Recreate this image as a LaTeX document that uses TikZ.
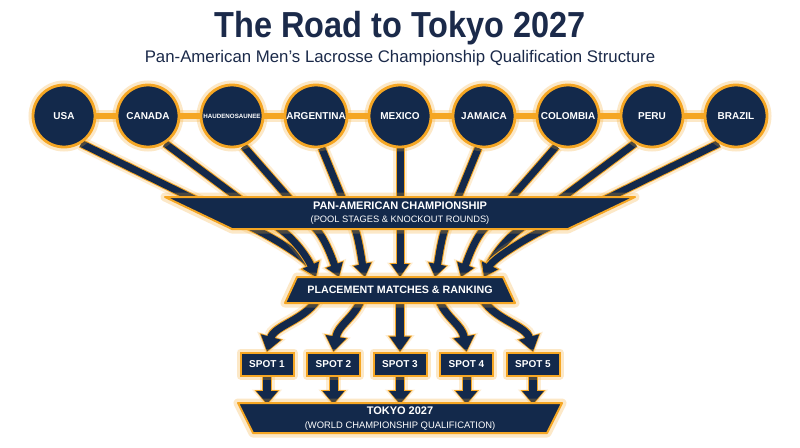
\documentclass[tikz,border=0pt]{standalone}
\usepackage{fontspec}
\setmainfont{Liberation Sans}
\usetikzlibrary{arrows.meta}
\pgfdeclarelayer{bg}
\pgfsetlayers{bg,main}
\definecolor{navy}{HTML}{13294B}
\definecolor{org}{HTML}{F5A623}
\definecolor{ttl}{HTML}{1B2A4A}
\newcommand\fsz[1]{\fontsize{#1}{#1}\selectfont}
\tikzset{
  country/.style={circle, fill=navy, draw=org, line width=2.8pt, minimum size=62pt, inner sep=0pt,
    text=white, font=\bfseries\fsz{10}, preaction={draw=org, opacity=.25, line width=9pt}},
  spotbox/.style={rectangle, fill=navy, draw=org, line width=2pt, minimum width=53pt, minimum height=23pt,
    inner sep=0pt, text=white, font=\bfseries\fsz{10}, preaction={draw=org, opacity=.25, line width=8pt, line join=round}},
  banner/.style={fill=navy, draw=org, line width=2pt, line join=round, preaction={draw=org, opacity=.25, line width=9pt, line join=round}},
  bantext/.style={text=white, align=center, inner sep=0pt},
  softA/.style={draw=org, opacity=.2, line width=14pt, -{Triangle[length=18pt,width=25pt]}, shorten >=-3.5pt},
  edgeA/.style={draw=org, line width=9pt, -{Triangle[length=15pt,width=20pt]}, shorten >=-1.2pt},
  coreA/.style={draw=navy, line width=7pt, -{Triangle[length=13pt,width=17pt]}},
  softB/.style={draw=org, opacity=.2, line width=14.5pt, -{Triangle[length=20pt,width=28pt]}, shorten >=-3.5pt},
  edgeB/.style={draw=org, line width=9.5pt, -{Triangle[length=17pt,width=23pt]}, shorten >=-1.2pt},
  coreB/.style={draw=navy, line width=7.5pt, -{Triangle[length=15pt,width=20pt]}},
  softC/.style={draw=org, opacity=.2, line width=15pt, -{Triangle[length=18pt,width=29pt]}, shorten >=-3.5pt},
  edgeC/.style={draw=org, line width=10pt, -{Triangle[length=15pt,width=24pt]}, shorten >=-1.2pt},
  coreC/.style={draw=navy, line width=8pt, -{Triangle[length=13pt,width=21pt]}},
}
\newcommand\glowA[1]{\draw[softA] #1; \draw[edgeA] #1; \draw[coreA] #1;}
\newcommand\glowB[1]{\draw[softB] #1; \draw[edgeB] #1; \draw[coreB] #1;}
\newcommand\glowC[1]{\draw[softC] #1; \draw[edgeC] #1; \draw[coreC] #1;}
\begin{document}
\begin{tikzpicture}[x=1pt,y=-1pt]
\useasboundingbox (0,0) rectangle (800,447);

% titles
\node[anchor=base, text=ttl, font=\bfseries\fsz{33.5}, inner sep=0pt] (title) at (400,37) {\scalebox{0.97}[1.08]{The Road to Tokyo 2027}};
\node[anchor=base, text=ttl, font=\fsz{16.8}, inner sep=0pt] (subtitle) at (400,62) {Pan-American Men’s Lacrosse Championship Qualification Structure};

% countries
\node[country] (c1) at (64,116) {USA};
\node[country] (c2) at (148,116) {CANADA};
\node[country, font=\bfseries\fsz{6.2}] (c3) at (232,116) {HAUDENOSAUNEE};
\node[country] (c4) at (316,116) {ARGENTINA};
\node[country] (c5) at (400,116) {MEXICO};
\node[country] (c6) at (484,116) {JAMAICA};
\node[country] (c7) at (568,116) {COLOMBIA};
\node[country] (c8) at (652,116) {PERU};
\node[country] (c9) at (736,116) {BRAZIL};

% Pan-American championship banner
\path[banner] (165,197) -- (635,197) -- (568,229) -- (232,229) -- cycle;
\node[bantext] (pac) at (400,213) {{\bfseries\fsz{11}PAN-AMERICAN CHAMPIONSHIP}\\[1.5pt]{\fsz{9.3}(POOL STAGES \& KNOCKOUT ROUNDS)}};

% placement banner
\path[banner] (297,277) -- (503,277) -- (515,303) -- (285,303) -- cycle;
\node[bantext, font=\bfseries\fsz{10.7}] (plc) at (400,290) {PLACEMENT MATCHES \& RANKING};

% spots
\node[spotbox] (s1) at (267,364) {SPOT 1};
\node[spotbox] (s2) at (333.5,364) {SPOT 2};
\node[spotbox] (s3) at (400,364) {SPOT 3};
\node[spotbox] (s4) at (466.5,364) {SPOT 4};
\node[spotbox] (s5) at (533,364) {SPOT 5};

% Tokyo banner
\path[banner] (238,403) -- (562,403) -- (547,433) -- (253,433) -- cycle;
\node[bantext] (tky) at (400,418.5) {{\bfseries\fsz{11}TOKYO 2027}\\[1.5pt]{\fsz{9.4}(WORLD CHAMPIONSHIP QUALIFICATION)}};

% anchor points
\coordinate (pa1) at (316,277);
\coordinate (pa2) at (339,277);
\coordinate (pa3) at (365,277);
\coordinate (pa4) at (400,277);
\coordinate (pa5) at (435,277);
\coordinate (pa6) at (461,277);
\coordinate (pa7) at (484,277);
\coordinate (pb1) at (317,300);
\coordinate (pb2) at (361,300);
\coordinate (pb3) at (400,300);
\coordinate (pb4) at (439,300);
\coordinate (pb5) at (483,300);
\coordinate (tktop) at (400,404);

\begin{pgfonlayer}{bg}
  \fill[white] (0,0) rectangle (800,447);
  \draw[org, line width=6pt, preaction={draw=org, opacity=.25, line width=12pt}] (c1) -- (c9);
  \glowA{(c1.-58) -- (255,229) .. controls (277,240) and (307,259) .. (pa1)}
  \glowA{(c2.-58) -- (280,229) .. controls (298,242) and (309,261) .. (pa1)}
  \glowA{(c3.-69) -- (316,229) .. controls (326,240) and (333,261) .. (pa2)}
  \glowA{(c4.-80) -- (355,229) .. controls (359,240) and (362,262) .. (pa3)}
  \glowA{(c5.-90) -- (pa4)}
  \glowA{(c6.-100) -- (445,229) .. controls (441,240) and (438,262) .. (pa5)}
  \glowA{(c7.-111) -- (484,229) .. controls (474,240) and (467,261) .. (pa6)}
  \glowA{(c8.-122) -- (520,229) .. controls (502,242) and (491,261) .. (pa7)}
  \glowA{(c9.-122) -- (545,229) .. controls (523,240) and (493,259) .. (pa7)}
  \glowB{(pb1) .. controls (304,320) and (274,326) .. (s1.north)}
  \glowB{(pb2) .. controls (354,318) and (338,325) .. (s2.north)}
  \glowB{(pb3) -- (s3.north)}
  \glowB{(pb4) .. controls (446,318) and (462,325) .. (s4.north)}
  \glowB{(pb5) .. controls (496,320) and (526,326) .. (s5.north)}
  \glowC{(s1.south) -- (s1.south |- tktop)}
  \glowC{(s2.south) -- (s2.south |- tktop)}
  \glowC{(s3.south) -- (s3.south |- tktop)}
  \glowC{(s4.south) -- (s4.south |- tktop)}
  \glowC{(s5.south) -- (s5.south |- tktop)}
\end{pgfonlayer}
\end{tikzpicture}
\end{document}
